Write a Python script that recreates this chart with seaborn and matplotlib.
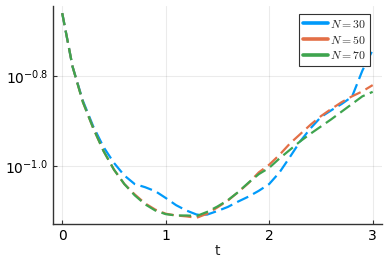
import numpy as np
import pandas as pd
import matplotlib
matplotlib.use("Agg")
import matplotlib.pyplot as plt
from matplotlib.lines import Line2D
import seaborn as sns

t = [0.0, 0.1, 0.2, 0.3, 0.4, 0.5, 0.6, 0.7, 0.8, 0.9, 1.0,
     1.1, 1.2, 1.3, 1.4, 1.5, 1.6, 1.7, 1.8, 1.9, 2.0,
     2.1, 2.2, 2.3, 2.4, 2.5, 2.6, 2.7, 2.8, 2.9, 3.0]

# log10 of the error
log_n30 = [-0.660, -0.779, -0.855, -0.912, -0.958, -0.993, -1.021, -1.040, -1.047, -1.056, -1.071,
           -1.087, -1.099, -1.108, -1.108, -1.100, -1.091, -1.079, -1.068, -1.055, -1.040,
           -1.014, -0.980, -0.945, -0.916, -0.891, -0.876, -0.862, -0.846, -0.788, -0.742]
log_n50 = [-0.660, -0.779, -0.858, -0.916, -0.967, -1.008, -1.040, -1.063, -1.083, -1.097, -1.106,
           -1.110, -1.112, -1.115, -1.106, -1.092, -1.077, -1.058, -1.038, -1.014, -0.997,
           -0.975, -0.950, -0.929, -0.908, -0.889, -0.873, -0.858, -0.845, -0.834, -0.820]
log_n70 = [-0.660, -0.779, -0.858, -0.916, -0.967, -1.008, -1.040, -1.065, -1.085, -1.099, -1.107,
           -1.110, -1.110, -1.111, -1.102, -1.090, -1.076, -1.058, -1.037, -1.018, -1.004,
           -0.983, -0.964, -0.945, -0.928, -0.912, -0.896, -0.879, -0.862, -0.845, -0.835]

labels = ["$N = 30$", "$N = 50$", "$N = 70$"]
colors = ["#009AFA", "#E36F47", "#3EA44E"]
ytick_exp = [-1.0, -0.8]
ytick_labels = ["$10^{-1.0}$", "$10^{-0.8}$"]

sns.set_theme(style="white")
plt.rcParams["font.family"] = ["DejaVu Sans"]
plt.rcParams["mathtext.fontset"] = "dejavusans"

fig = plt.figure(figsize=(3.89, 2.59), dpi=100)
ax = fig.add_axes([0.136, 0.135, 0.846, 0.842])

for vals, lab, col in zip([log_n30, log_n50, log_n70], labels, colors):
    sns.lineplot(x=t, y=10 ** np.array(vals), color=col, ax=ax, linewidth=1.6)
for ln in ax.lines:
    ln.set_dashes([5.5, 2.5])

ax.set_yscale("log")
ax.set_xlim(-0.09, 3.09)
ax.set_ylim(10 ** -1.129, 10 ** -0.644)
ax.set_xticks([0, 1, 2, 3])
ax.set_xticklabels(["0", "1", "2", "3"])
ax.set_yticks([10 ** e for e in ytick_exp])
ax.set_yticklabels(ytick_labels)
ax.yaxis.set_minor_locator(matplotlib.ticker.NullLocator())
ax.tick_params(axis="both", direction="in", length=3, width=0.8, colors="#333333",
               labelsize=10, labelcolor="black", left=True, bottom=True)
ax.grid(True, color="black", alpha=0.08, linewidth=0.8)
for s in ["top", "right"]:
    ax.spines[s].set_visible(False)
for s in ["left", "bottom"]:
    ax.spines[s].set_color("#333333")
    ax.spines[s].set_linewidth(1.0)

ax.set_xlabel("t", fontsize=10, labelpad=1)
ax.set_ylabel("")

handles = [Line2D([0], [0], color=c, linewidth=2.6) for c in colors]
with plt.rc_context({"mathtext.fontset": "cm"}):
    leg = ax.legend(handles, labels, loc="upper right", bbox_to_anchor=(0.9635, 0.963),
                    borderaxespad=0, fancybox=False, framealpha=1, edgecolor="#333333",
                    fontsize=8.5, handlelength=2.2, handletextpad=0.15, labelspacing=0.25,
                    borderpad=0.3)
leg.get_frame().set_linewidth(0.8)

fig.savefig("out.png", dpi=100)
